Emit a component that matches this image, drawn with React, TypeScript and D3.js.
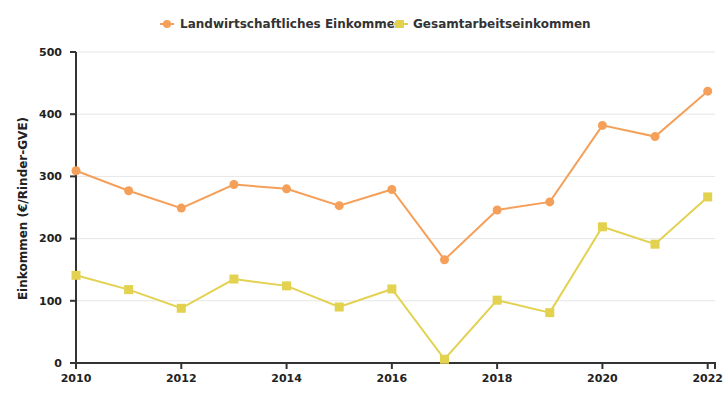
import React from "react";
import * as d3 from "d3";

const years = [2010, 2011, 2012, 2013, 2014, 2015, 2016, 2017, 2018, 2019, 2020, 2021, 2022];
const landwirtschaftlich = [309, 277, 249, 287, 280, 253, 279, 166, 246, 259, 382, 364, 437];
const gesamtarbeit = [141, 118, 88, 135, 124, 90, 119, 6, 101, 81, 219, 191, 267];
const yTicks = [0, 100, 200, 300, 400, 500];
const xTicks = [2010, 2012, 2014, 2016, 2018, 2020, 2022];
const seriesNames = ["Landwirtschaftliches Einkommen", "Gesamtarbeitseinkommen"];

const W = 725, H = 400;
const left = 76, right = 715, top = 52, bottom = 363;
const ORANGE = "#f5a05a";
const YELLOW = "#e3d150";
const FONT = "'DejaVu Sans', sans-serif";
const LY = 24;

export default function App() {
  const x = d3.scaleLinear().domain([2010, 2022]).range([left, 707.7]);
  const y = d3.scaleLinear().domain([0, 500]).range([bottom, top]);
  const line = d3.line<number>().x((_, i) => x(years[i])).y((d) => y(d));

  return (
    <svg width={W} height={H} style={{ position: "absolute", left: 0, top: 0 }} fontFamily={FONT}>
      {/* grid */}
      {yTicks.map((t) => (
        <line key={t} x1={left} x2={right} y1={y(t)} y2={y(t)} stroke="#e6e6e6" strokeWidth={1} />
      ))}
      {/* y axis */}
      <line x1={left} x2={left} y1={top} y2={bottom} stroke="#333" strokeWidth={2} />
      {yTicks.map((t) => (
        <g key={t}>
          <line x1={left - 6} x2={left} y1={y(t)} y2={y(t)} stroke="#333" strokeWidth={2} />
          <text x={left - 14} y={y(t)} dy="0.35em" textAnchor="end" fontSize={11} fontWeight="bold" fill="#222">
            {t}
          </text>
        </g>
      ))}
      {/* x axis */}
      <line x1={left - 1} x2={right + 1} y1={bottom} y2={bottom} stroke="#333" strokeWidth={2} />
      <line x1={right} x2={right} y1={bottom} y2={bottom + 6} stroke="#333" strokeWidth={2} />
      {xTicks.map((t) => (
        <g key={t}>
          <line x1={x(t)} x2={x(t)} y1={bottom} y2={bottom + 6} stroke="#333" strokeWidth={2} />
          <text x={x(t)} y={bottom + 19} textAnchor="middle" fontSize={11} fontWeight="bold" fill="#222">
            {t}
          </text>
        </g>
      ))}
      <text
        transform={`translate(27,${(top + bottom) / 2 + 1}) rotate(-90)`}
        textAnchor="middle"
        fontSize={12}
        fontWeight="bold"
        fill="#222"
      >
        Einkommen (€/Rinder-GVE)
      </text>
      {/* lines */}
      <path d={line(landwirtschaftlich) || ""} fill="none" stroke={ORANGE} strokeWidth={2} />
      <path d={line(gesamtarbeit) || ""} fill="none" stroke={YELLOW} strokeWidth={2} />
      {landwirtschaftlich.map((v, i) => (
        <circle key={i} cx={x(years[i])} cy={y(v)} r={4.5} fill={ORANGE} />
      ))}
      {gesamtarbeit.map((v, i) => (
        <rect key={i} x={x(years[i]) - 4.5} y={y(v) - 4.5} width={9} height={9} fill={YELLOW} />
      ))}
      {/* legend */}
      <g>
        <line x1={160} x2={174} y1={LY} y2={LY} stroke={ORANGE} strokeWidth={2} />
        <circle cx={167} cy={LY} r={4} fill={ORANGE} />
        <text x={180} y={LY} dy="0.35em" fontSize={12} fontWeight="bold" fill="#333">
          {seriesNames[0]}
        </text>
        <line x1={393} x2={408} y1={LY} y2={LY} stroke={YELLOW} strokeWidth={2} />
        <rect x={396} y={LY - 4} width={8} height={8} fill={YELLOW} />
        <text x={413} y={LY} dy="0.35em" fontSize={12} fontWeight="bold" fill="#333">
          {seriesNames[1]}
        </text>
      </g>
    </svg>
  );
}
